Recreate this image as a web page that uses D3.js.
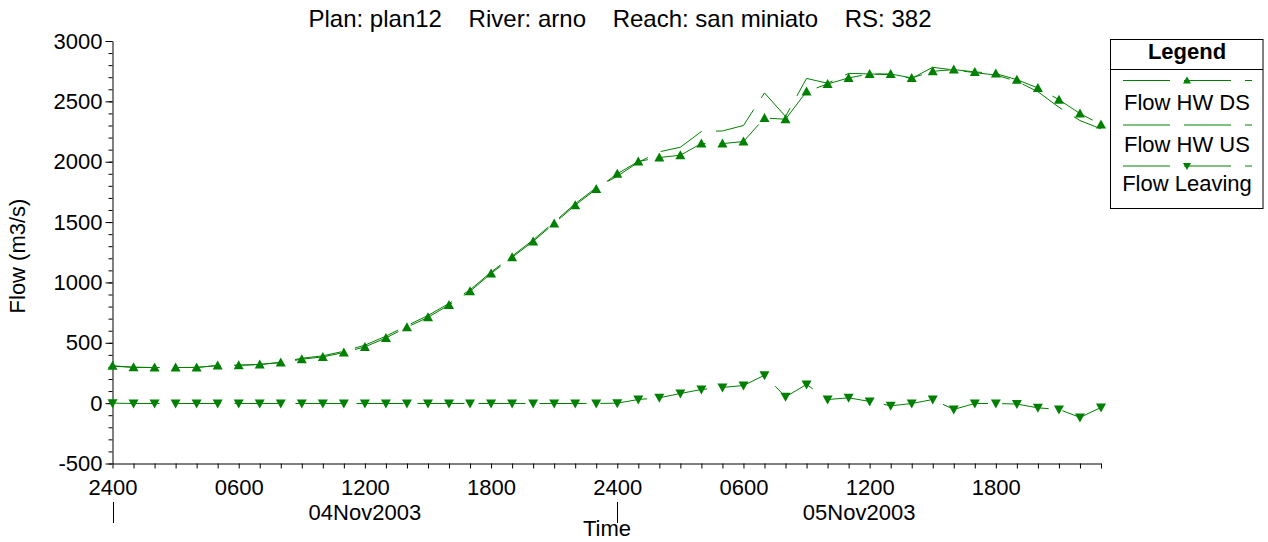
<!DOCTYPE html>
<html>
<head>
<meta charset="utf-8">
<script src="https://cdn.jsdelivr.net/npm/d3@7"></script>
<style>
  html, body { margin: 0; padding: 0; background: #fff; }
  svg { display: block; }
  text { font-family: "Liberation Sans", Arial, sans-serif; fill: #000; }
</style>
</head>
<body>
<svg id="chart" width="1268" height="542"></svg>
<script>
// ---- data (hourly, starting 04Nov2003 0000 = "2400" of 03Nov) ----
const titleText = "Plan: plan12    River: arno    Reach: san miniato    RS: 382";
const dayLabels = ["04Nov2003", "05Nov2003"];
const hourTicks = [0, 6, 12, 18, 24, 30, 36, 42];
const hourTickLabels = ["2400", "0600", "1200", "1800", "2400", "0600", "1200", "1800"];
const yTicks = [-500, 0, 500, 1000, 1500, 2000, 2500, 3000];
const seriesNames = ["Flow HW DS", "Flow HW US", "Flow Leaving"];

const flowHwDs = [310, 297, 295, 295, 296, 312, 314, 320, 336, 364, 383, 419,
  466, 540, 629, 711, 813, 926, 1075, 1208, 1340, 1489, 1640, 1773,
  1900, 2002, 2035, 2054, 2150, 2150, 2167, 2362, 2352, 2581, 2644, 2694,
  2727, 2727, 2694, 2749, 2763, 2744, 2730, 2680, 2611, 2514, 2399, 2308];

const flowHwUs = [306, 297, 295, 295, 296, 311, 314, 321, 338, 372, 392, 430,
  480, 555, 642, 726, 826, 938, 1085, 1218, 1352, 1500, 1652, 1785,
  1880, 1995, 2082, 2120, 2250, 2255, 2300, 2570, 2375, 2690, 2650, 2732,
  2727, 2721, 2690, 2782, 2760, 2738, 2718, 2666, 2580, 2451, 2341, 2272];

const flowLeaving = [0, -3, -3, -3, -3, -3, -3, -3, -3, -3, -3, -3,
  -3, -3, -3, -3, -3, -3, -3, -3, -3, -3, -3, -3,
  0, 30, 44, 80, 113, 130, 146, 231, 52, 155, 30, 44,
  14, -22, -3, 30, -52, -3, -3, -8, -39, -52, -118, -36];

// ---- layout ----
const svg = d3.select("#chart");
const green = "#008000";
const x = d3.scaleLinear().domain([0, 47]).range([112.5, 1101]);
const y = d3.scaleLinear().domain([-500, 3000]).range([463.5, 41]);
const fs = 22;
const fontFam = "Liberation Sans, Arial, sans-serif";

// title
svg.append("text")
  .attr("x", 620).attr("y", 27)
  .attr("text-anchor", "middle")
  .attr("font-size", 24)
  .style("white-space", "pre")
  .attr("xml:space", "preserve")
  .text(titleText);

// y axis (minor + major)
const yMinor = d3.range(-500, 3001, 100);
svg.append("g")
  .attr("transform", "translate(112.5,0)")
  .call(d3.axisLeft(y).tickValues(yMinor).tickSize(4).tickFormat(""))
  .call(g => g.select(".domain").remove())
  .call(g => g.selectAll("line").attr("stroke", "#000"));
const yAx = svg.append("g")
  .attr("transform", "translate(112.5,0)")
  .call(d3.axisLeft(y).tickValues(yTicks).tickSize(7).tickPadding(3).tickSizeOuter(0).tickFormat(d => String(d)));
yAx.selectAll("text").attr("font-size", fs).attr("font-family", fontFam).attr("fill", "#000");
yAx.select(".domain").attr("stroke", "#000");

// x axis
const xAx = svg.append("g")
  .attr("transform", "translate(0,463.5)")
  .call(d3.axisBottom(x).tickValues(d3.range(0, 48)).tickSize(5).tickSizeOuter(0).tickPadding(11)
    .tickFormat(h => { const i = hourTicks.indexOf(h); return i >= 0 ? hourTickLabels[i] : ""; }));
xAx.selectAll("text").attr("font-size", fs).attr("font-family", fontFam).attr("fill", "#000");
xAx.select(".domain").attr("stroke", "#000");

// day labels and separators
const dayStarts = [0, 24];
dayStarts.forEach((d, i) => {
  const x0 = x(d), x1 = x(Math.min(d + 24, 47));
  svg.append("text")
    .attr("x", (x0 + x1) / 2).attr("y", 519.5)
    .attr("text-anchor", "middle").attr("font-size", fs)
    .text(dayLabels[i]);
  svg.append("line")
    .attr("x1", Math.round(x0) + 0.5).attr("x2", Math.round(x0) + 0.5)
    .attr("y1", 502).attr("y2", 523)
    .attr("stroke", "#000");
});

// axis titles
svg.append("text")
  .attr("x", 607).attr("y", 536)
  .attr("text-anchor", "middle").attr("font-size", fs)
  .text("Time");
svg.append("text")
  .attr("transform", "translate(25,256) rotate(-90)")
  .attr("text-anchor", "middle").attr("font-size", fs)
  .text("Flow (m3/s)");

// series
const dash = "47,14";
const line = d3.line().x((d, i) => x(i)).y(d => y(d));
const series = [
  { name: seriesNames[0], values: flowHwDs, marker: "up" },
  { name: seriesNames[1], values: flowHwUs, marker: null },
  { name: seriesNames[2], values: flowLeaving, marker: "down" }
];
const triUp = "M0,-5L5,4L-5,4Z";
const triDown = "M0,5L5,-4L-5,-4Z";

series.forEach(s => {
  svg.append("path")
    .datum(s.values)
    .attr("d", line)
    .attr("fill", "none")
    .attr("stroke", green)
    .attr("stroke-width", 1)
    .attr("stroke-dasharray", dash);
});
series.forEach(s => {
  if (!s.marker) return;
  svg.append("g").selectAll("path")
    .data(s.values)
    .join("path")
    .attr("transform", (d, i) => `translate(${x(i)},${y(d)})`)
    .attr("d", s.marker === "up" ? triUp : triDown)
    .attr("fill", green);
});

// legend
const lg = svg.append("g");
lg.append("rect")
  .attr("x", 1110.5).attr("y", 39.5).attr("width", 152.5).attr("height", 169)
  .attr("fill", "#fff").attr("stroke", "#000");
lg.append("line")
  .attr("x1", 1110.5).attr("x2", 1263).attr("y1", 69.5).attr("y2", 69.5)
  .attr("stroke", "#000");
lg.append("text")
  .attr("x", 1187).attr("y", 59)
  .attr("text-anchor", "middle").attr("font-size", fs).attr("font-weight", "bold")
  .text("Legend");
const lineYs = [80.5, 125, 166];
const textYs = [110, 151.5, 191];
series.forEach((s, i) => {
  lg.append("line")
    .attr("x1", 1123).attr("x2", 1252)
    .attr("y1", lineYs[i]).attr("y2", lineYs[i])
    .attr("stroke", green).attr("stroke-width", 1)
    .attr("stroke-dasharray", dash);
  if (s.marker) {
    lg.append("path")
      .attr("transform", `translate(1187,${lineYs[i]})`)
      .attr("d", s.marker === "up" ? "M0,-4L4,3L-4,3Z" : "M0,4L4,-3L-4,-3Z")
      .attr("fill", green);
  }
  lg.append("text")
    .attr("x", 1187).attr("y", textYs[i])
    .attr("text-anchor", "middle").attr("font-size", fs)
    .text(s.name);
});
</script>
</body>
</html>
